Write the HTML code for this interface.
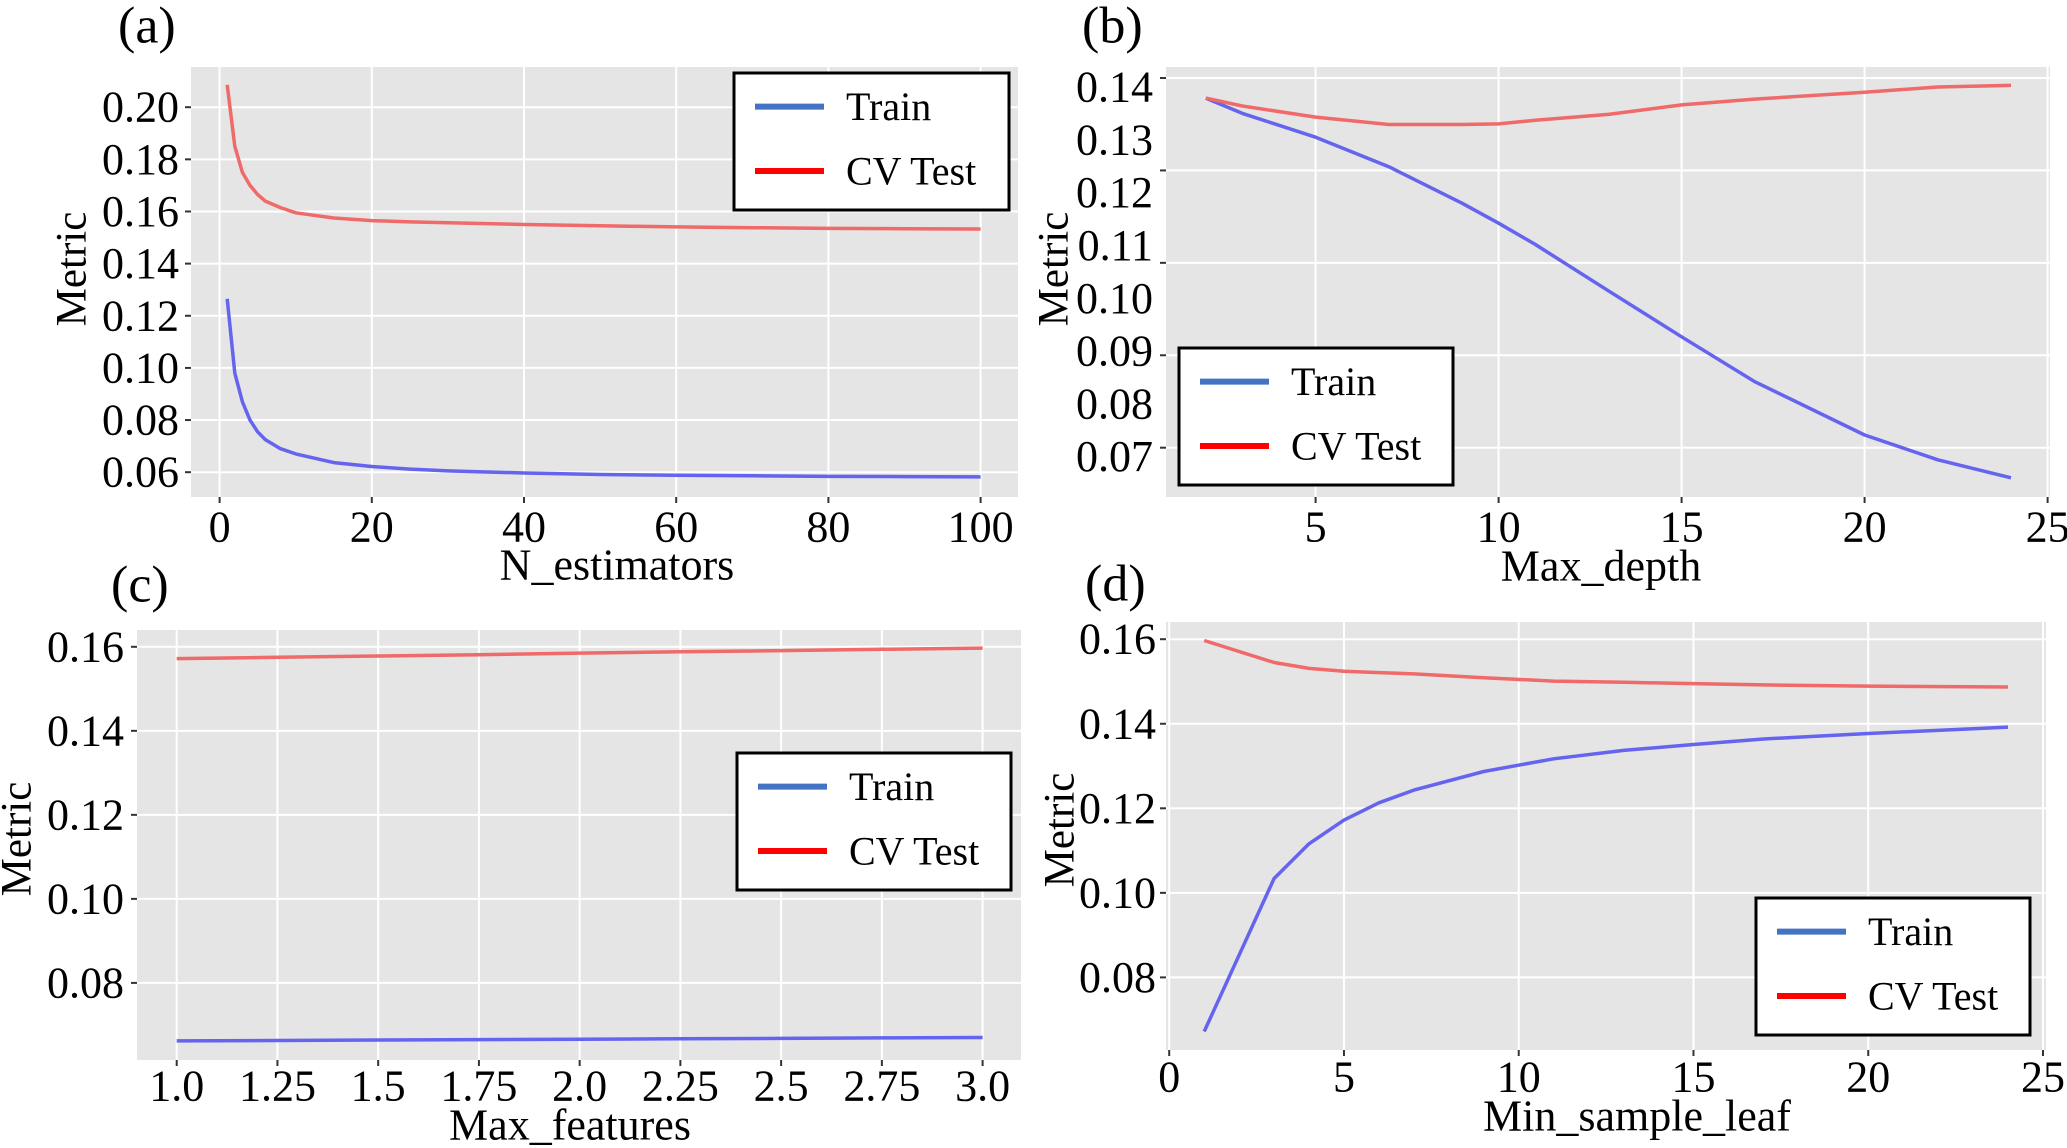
<!DOCTYPE html>
<html><head><meta charset="utf-8">
<style>
html,body{margin:0;padding:0;background:#fff;}
svg{display:block;}
text{font-family:"Liberation Serif",serif;fill:#000;}
</style></head>
<body>
<svg id="fig" width="2067" height="1148" viewBox="0 0 2067 1148" xmlns="http://www.w3.org/2000/svg"></svg>
<script>
// Panel (a) data
const aX = [1,2,3,4,5,6,8,10,15,20,25,30,40,50,60,70,80,90,100];
const aTrain = [0.1265,0.098,0.087,0.080,0.0755,0.0725,0.069,0.067,0.0637,0.0622,0.0612,0.0605,0.0597,0.0591,0.0588,0.0586,0.0584,0.0583,0.0582];
const aCV = [0.2086,0.185,0.175,0.170,0.1665,0.164,0.1615,0.1595,0.1575,0.1565,0.156,0.1557,0.155,0.1545,0.1541,0.1538,0.1535,0.1534,0.1533];
const aXTicks = [0,20,40,60,80,100];
const aYTicks = [0.06,0.08,0.10,0.12,0.14,0.16,0.18,0.20];
// Panel (b) data
const bX = [2,3,5,7,9,10,11,13,15,17,20,22,24];
const bTrain = [0.1362,0.1333,0.1288,0.1232,0.1163,0.1125,0.1085,0.0997,0.091,0.0825,0.0724,0.0677,0.0643];
const bCV = [0.1362,0.1347,0.1326,0.1312,0.1312,0.1313,0.132,0.1331,0.1349,0.136,0.1373,0.1383,0.1386];
const bXTicks = [5,10,15,20,25];
const bYTicks = [0.07,0.08,0.09,0.10,0.11,0.12,0.13,0.14];
const bYGrid = [0.07,0.0875,0.105,0.1225,0.14];
// Panel (c) data
const cX = [1.0,1.25,1.5,1.75,2.0,2.25,2.5,2.75,3.0];
const cTrain = [0.0662,0.0663,0.0664,0.0665,0.0666,0.0667,0.0668,0.0669,0.0670];
const cCV = [0.1572,0.1575,0.1578,0.1581,0.1585,0.1588,0.1591,0.1594,0.1597];
const cXTicks = [1.0,1.25,1.5,1.75,2.0,2.25,2.5,2.75,3.0];
const cXLabels = ["1.0","1.25","1.5","1.75","2.0","2.25","2.5","2.75","3.0"];
const cYTicks = [0.08,0.10,0.12,0.14,0.16];
// Panel (d) data
const dX = [1,3,4,5,6,7,9,11,13,15,17,20,24];
const dTrain = [0.0672,0.1034,0.1116,0.1172,0.1213,0.1243,0.1287,0.1317,0.1337,0.1351,0.1364,0.1377,0.1392];
const dCV = [0.1597,0.1545,0.1531,0.1524,0.1521,0.1518,0.1509,0.1501,0.1498,0.1495,0.1492,0.1489,0.1487];
const dXTicks = [0,5,10,15,20,25];
const dYTicks = [0.08,0.10,0.12,0.14,0.16];

const NS = "http://www.w3.org/2000/svg";
const fig = document.getElementById('fig');
function mk(tag, attrs, parent, txt){
  const e = document.createElementNS(NS, tag);
  for (const k in attrs) e.setAttribute(k, attrs[k]);
  if (txt !== undefined) e.textContent = txt;
  (parent||fig).appendChild(e);
  return e;
}
function linScale(d0,d1,r0,r1){ return v => r0 + (v-d0)/(d1-d0)*(r1-r0); }

function panel(cfg){
  const g = mk('g', {});
  
  
  const sx = linScale(cfg.xd[0], cfg.xd[1], cfg.xr[0], cfg.xr[1]);
  const sy = linScale(cfg.yd[0], cfg.yd[1], cfg.yr[0], cfg.yr[1]);
  const bg = mk('rect', {x:cfg.px0, y:cfg.py0, width:cfg.px1-cfg.px0, height:cfg.py1-cfg.py0, fill:'#e5e5e5'}, g);
  
  
  cfg.xticks.forEach(v => {
    const x = sx(v);
    if (x < cfg.px0 || x > cfg.px1) return;
    const l = mk('line', {x1:x, x2:x, y1:cfg.py0, y2:cfg.py1, stroke:'#fff', 'stroke-width':2}, g);
    
    
    mk('line', {x1:x, x2:x, y1:cfg.py1, y2:cfg.py1+6, stroke:'#333', 'stroke-width':2}, g);
  });
  (cfg.ygrid||cfg.yticks).forEach(v => {
    const y = sy(v);
    const l = mk('line', {x1:cfg.px0, x2:cfg.px1, y1:y, y2:y, stroke:'#fff', 'stroke-width':2}, g);
    
    
    mk('line', {x1:cfg.px0-6, x2:cfg.px0, y1:y, y2:y, stroke:'#333', 'stroke-width':2}, g);
  });
  cfg.xticks.forEach((v,i) => {
    const t = mk('text', {x:sx(v), y:cfg.xly, 'font-size':44, 'text-anchor':'middle', 'dominant-baseline':'central'}, g, cfg.xlabels ? cfg.xlabels[i] : String(v));
    
    
  });
  cfg.yticks.forEach(v => {
    const t = mk('text', {x:cfg.ylx, y:sy(v)+(cfg.yloff||0), 'font-size':44, 'text-anchor':'end', 'dominant-baseline':'central'}, g, v.toFixed(2));
    
    
  });
  const series = [[cfg.train, '#6464ee', 'train-line'], [cfg.cv, '#f06a6a', 'cv-test-line']];
  series.forEach(s => {
    const pts = cfg.x.map((xv,i) => sx(xv).toFixed(1)+','+sy(s[0][i]).toFixed(1)).join(' ');
    const p = mk('polyline', {points:pts, fill:'none', stroke:s[1], 'stroke-width':3.5, 'stroke-linejoin':'round'}, g);
    
    
  });
  const xt = mk('text', {x:cfg.xtx, y:cfg.xty, 'font-size':44, 'text-anchor':'middle', 'dominant-baseline':'central'}, g, cfg.xtitle);
  
  
  const yt = mk('text', {x:0, y:0, 'font-size':43, 'text-anchor':'middle', 'dominant-baseline':'central', transform:'translate('+cfg.ytx+','+cfg.yty+') rotate(-90)'}, g, 'Metric');
  
  
  const pl = mk('text', {x:cfg.lblx, y:cfg.lbly, 'font-size':52, 'text-anchor':'start', 'dominant-baseline':'central'}, g, '('+cfg.id+')');
  
  
  const L = cfg.leg;
  const lg = mk('g', {}, g);
  
  
  mk('rect', {x:L.x0, y:L.y0, width:L.x1-L.x0, height:L.y1-L.y0, fill:'#fff', stroke:'#000', 'stroke-width':3}, lg);
  const h = L.y1 - L.y0;
  [['Train','#4472c4', 0.245],['CV Test','#ff0000', 0.715]].forEach((e,i) => {
    const y = L.y0 + h*e[2];
    const ln = mk('line', {x1:L.x0+21, x2:L.x0+90, y1:y, y2:y, stroke:e[1], 'stroke-width':6}, lg);
    
    
    const tx = mk('text', {x:L.x0+112, y:y, 'font-size':40, 'dominant-baseline':'central'}, lg, e[0]);
    
    
  });
}

panel({id:'a', px0:191, px1:1018, py0:67, py1:497,
  xd:[0,100], xr:[219.6,980.6], yd:[0.06,0.20], yr:[472.2,107.2],
  xticks:aXTicks, yticks:aYTicks, x:aX, train:aTrain, cv:aCV,
  xly:527, ylx:179, xtitle:'N_estimators', xtx:617, xty:565, ytx:72, yty:269,
  lblx:118, lbly:26, leg:{x0:734,y0:73,x1:1009,y1:210}});
panel({id:'b', px0:1166, px1:2050, py0:67, py1:497,
  xd:[0,25], xr:[1132.6,2047.6], yd:[0.07,0.14], yr:[447.7,78],
  xticks:bXTicks, yticks:bYTicks, ygrid:bYGrid, yloff:9, x:bX, train:bTrain, cv:bCV,
  xly:527, ylx:1153, xtitle:'Max_depth', xtx:1601, xty:566, ytx:1054, yty:269,
  lblx:1082, lbly:26, leg:{x0:1179,y0:348,x1:1453,y1:485}});
panel({id:'c', px0:137, px1:1021, py0:630, py1:1060,
  xd:[1,3], xr:[176.7,982.6], yd:[0.08,0.16], yr:[982.9,646.8],
  xticks:cXTicks, xlabels:cXLabels, yticks:cYTicks, x:cX, train:cTrain, cv:cCV,
  xly:1086, ylx:124, xtitle:'Max_features', xtx:570, xty:1125, ytx:17, yty:839,
  lblx:111, lbly:585, leg:{x0:737,y0:753,x1:1011,y1:890}});
panel({id:'d', px0:1166, px1:2046, py0:622, py1:1050,
  xd:[0,25], xr:[1169.2,2043], yd:[0.08,0.16], yr:[977.4,639.2],
  xticks:dXTicks, yticks:dYTicks, x:dX, train:dTrain, cv:dCV,
  xly:1077, ylx:1156, xtitle:'Min_sample_leaf', xtx:1637, xty:1116, ytx:1060, yty:830,
  lblx:1085, lbly:584, leg:{x0:1756,y0:898,x1:2030,y1:1035}});
</script>
</body></html>
